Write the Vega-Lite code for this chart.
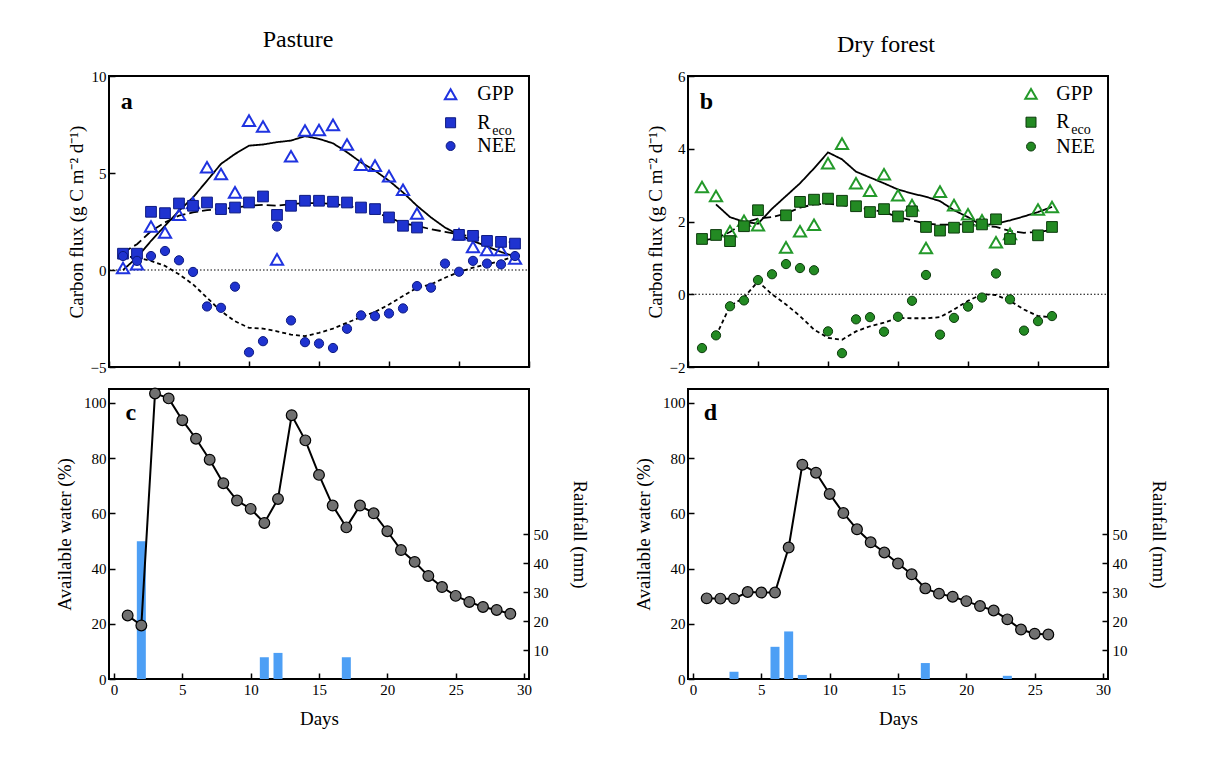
{
  "$schema": "https://vega.github.io/schema/vega-lite/v6.json",
  "background": "white",
  "padding": {"left": 54, "top": 27, "right": 5, "bottom": 5},
  "columns": 2,
  "spacing": {"row": 22, "column": 159},
  "bounds": "flush",
  "config": {
    "font": "Liberation Serif",
    "view": {"stroke": "black", "strokeWidth": 2},
    "axis": {"grid": false, "domain": false, "tickColor": "black", "tickSize": -6, "tickWidth": 1.5, "labelFont": "Liberation Serif", "labelFontSize": 15, "labelColor": "black", "labelFlush": false, "labelPadding": 9, "titleFont": "Liberation Serif", "titleFontSize": 19, "titleFontWeight": "normal", "titleColor": "black"},
    "title": {"font": "Liberation Serif", "fontSize": 24, "fontWeight": "normal", "color": "black", "anchor": "middle"}
  },
  "datasets": {
    "flux_pasture": [
      {"day":1,"series":"GPP","value":0.1},{"day":2,"series":"GPP","value":0.3},{"day":3,"series":"GPP","value":2.24},{"day":4,"series":"GPP","value":1.93},{"day":5,"series":"GPP","value":2.85},{"day":6,"series":"GPP","value":3.45},{"day":7,"series":"GPP","value":5.3},{"day":8,"series":"GPP","value":4.95},{"day":9,"series":"GPP","value":4.0},{"day":10,"series":"GPP","value":7.7},{"day":11,"series":"GPP","value":7.4},{"day":12,"series":"GPP","value":0.55},{"day":13,"series":"GPP","value":5.86},{"day":14,"series":"GPP","value":7.19},{"day":15,"series":"GPP","value":7.22},{"day":16,"series":"GPP","value":7.48},{"day":17,"series":"GPP","value":6.47},{"day":18,"series":"GPP","value":5.43},{"day":19,"series":"GPP","value":5.38},{"day":20,"series":"GPP","value":4.84},{"day":21,"series":"GPP","value":4.14},{"day":22,"series":"GPP","value":2.91},{"day":25,"series":"GPP","value":1.84},{"day":26,"series":"GPP","value":1.19},{"day":27,"series":"GPP","value":1.03},{"day":28,"series":"GPP","value":1.03},{"day":29,"series":"GPP","value":0.59},
      {"day":1,"series":"Reco","value":0.84},{"day":2,"series":"Reco","value":0.84},{"day":3,"series":"Reco","value":3.0},{"day":4,"series":"Reco","value":2.93},{"day":5,"series":"Reco","value":3.43},{"day":6,"series":"Reco","value":3.31},{"day":7,"series":"Reco","value":3.48},{"day":8,"series":"Reco","value":3.14},{"day":9,"series":"Reco","value":3.22},{"day":10,"series":"Reco","value":3.48},{"day":11,"series":"Reco","value":3.79},{"day":12,"series":"Reco","value":2.84},{"day":13,"series":"Reco","value":3.31},{"day":14,"series":"Reco","value":3.57},{"day":15,"series":"Reco","value":3.57},{"day":16,"series":"Reco","value":3.52},{"day":17,"series":"Reco","value":3.48},{"day":18,"series":"Reco","value":3.22},{"day":19,"series":"Reco","value":3.14},{"day":20,"series":"Reco","value":2.71},{"day":21,"series":"Reco","value":2.28},{"day":22,"series":"Reco","value":2.19},{"day":25,"series":"Reco","value":1.81},{"day":26,"series":"Reco","value":1.76},{"day":27,"series":"Reco","value":1.5},{"day":28,"series":"Reco","value":1.45},{"day":29,"series":"Reco","value":1.36},
      {"day":1,"series":"NEE","value":0.72},{"day":2,"series":"NEE","value":0.47},{"day":3,"series":"NEE","value":0.72},{"day":4,"series":"NEE","value":0.98},{"day":5,"series":"NEE","value":0.5},{"day":6,"series":"NEE","value":-0.1},{"day":7,"series":"NEE","value":-1.88},{"day":8,"series":"NEE","value":-1.95},{"day":9,"series":"NEE","value":-0.86},{"day":10,"series":"NEE","value":-4.24},{"day":11,"series":"NEE","value":-3.67},{"day":12,"series":"NEE","value":2.24},{"day":13,"series":"NEE","value":-2.6},{"day":14,"series":"NEE","value":-3.72},{"day":15,"series":"NEE","value":-3.79},{"day":16,"series":"NEE","value":-4.02},{"day":17,"series":"NEE","value":-3.03},{"day":18,"series":"NEE","value":-2.34},{"day":19,"series":"NEE","value":-2.38},{"day":20,"series":"NEE","value":-2.24},{"day":21,"series":"NEE","value":-1.98},{"day":22,"series":"NEE","value":-0.83},{"day":23,"series":"NEE","value":-0.91},{"day":24,"series":"NEE","value":0.33},{"day":25,"series":"NEE","value":-0.09},{"day":26,"series":"NEE","value":0.47},{"day":27,"series":"NEE","value":0.33},{"day":28,"series":"NEE","value":0.29},{"day":29,"series":"NEE","value":0.72}
    ],
    "fit_pasture": [
      {"day":1,"series":"GPP","value":0},{"day":2,"series":"GPP","value":0.64},{"day":3,"series":"GPP","value":1.5},{"day":4,"series":"GPP","value":2.28},{"day":5,"series":"GPP","value":3.05},{"day":6,"series":"GPP","value":3.74},{"day":7,"series":"GPP","value":4.6},{"day":8,"series":"GPP","value":5.47},{"day":9,"series":"GPP","value":5.98},{"day":10,"series":"GPP","value":6.41},{"day":11,"series":"GPP","value":6.47},{"day":12,"series":"GPP","value":6.59},{"day":13,"series":"GPP","value":6.67},{"day":14,"series":"GPP","value":6.9},{"day":15,"series":"GPP","value":6.76},{"day":16,"series":"GPP","value":6.53},{"day":17,"series":"GPP","value":6.07},{"day":18,"series":"GPP","value":5.55},{"day":19,"series":"GPP","value":5.12},{"day":20,"series":"GPP","value":4.6},{"day":21,"series":"GPP","value":4.0},{"day":22,"series":"GPP","value":3.31},{"day":23,"series":"GPP","value":2.71},{"day":24,"series":"GPP","value":2.19},{"day":25,"series":"GPP","value":1.81},{"day":26,"series":"GPP","value":1.5},{"day":27,"series":"GPP","value":1.21},{"day":28,"series":"GPP","value":0.93},{"day":29,"series":"GPP","value":0.69},
      {"day":1,"series":"Reco","value":0.9},{"day":2,"series":"Reco","value":1.33},{"day":3,"series":"Reco","value":2.0},{"day":4,"series":"Reco","value":2.45},{"day":5,"series":"Reco","value":2.8},{"day":6,"series":"Reco","value":2.97},{"day":7,"series":"Reco","value":3.09},{"day":8,"series":"Reco","value":3.14},{"day":9,"series":"Reco","value":3.22},{"day":10,"series":"Reco","value":3.31},{"day":11,"series":"Reco","value":3.36},{"day":12,"series":"Reco","value":3.31},{"day":13,"series":"Reco","value":3.4},{"day":14,"series":"Reco","value":3.45},{"day":15,"series":"Reco","value":3.45},{"day":16,"series":"Reco","value":3.4},{"day":17,"series":"Reco","value":3.31},{"day":18,"series":"Reco","value":3.17},{"day":19,"series":"Reco","value":2.97},{"day":20,"series":"Reco","value":2.71},{"day":21,"series":"Reco","value":2.4},{"day":22,"series":"Reco","value":2.28},{"day":23,"series":"Reco","value":2.1},{"day":24,"series":"Reco","value":1.97},{"day":25,"series":"Reco","value":1.84},{"day":26,"series":"Reco","value":1.72},{"day":27,"series":"Reco","value":1.59},{"day":28,"series":"Reco","value":1.5},{"day":29,"series":"Reco","value":1.41},
      {"day":1,"series":"NEE","value":0.72},{"day":2,"series":"NEE","value":0.64},{"day":3,"series":"NEE","value":0.47},{"day":4,"series":"NEE","value":0.21},{"day":5,"series":"NEE","value":-0.22},{"day":6,"series":"NEE","value":-0.74},{"day":7,"series":"NEE","value":-1.43},{"day":8,"series":"NEE","value":-2.12},{"day":9,"series":"NEE","value":-2.64},{"day":10,"series":"NEE","value":-2.98},{"day":11,"series":"NEE","value":-3.02},{"day":12,"series":"NEE","value":-3.16},{"day":13,"series":"NEE","value":-3.33},{"day":14,"series":"NEE","value":-3.41},{"day":15,"series":"NEE","value":-3.24},{"day":16,"series":"NEE","value":-3.02},{"day":17,"series":"NEE","value":-2.72},{"day":18,"series":"NEE","value":-2.43},{"day":19,"series":"NEE","value":-2.16},{"day":20,"series":"NEE","value":-1.78},{"day":21,"series":"NEE","value":-1.34},{"day":22,"series":"NEE","value":-0.91},{"day":23,"series":"NEE","value":-0.74},{"day":24,"series":"NEE","value":-0.4},{"day":25,"series":"NEE","value":-0.1},{"day":26,"series":"NEE","value":0.12},{"day":27,"series":"NEE","value":0.29},{"day":28,"series":"NEE","value":0.47},{"day":29,"series":"NEE","value":0.72}
    ],
    "flux_forest": [
      {"day":1,"series":"GPP","value":2.95},{"day":2,"series":"GPP","value":2.7},{"day":3,"series":"GPP","value":1.73},{"day":4,"series":"GPP","value":2.02},{"day":5,"series":"GPP","value":1.9},{"day":7,"series":"GPP","value":1.29},{"day":8,"series":"GPP","value":1.73},{"day":9,"series":"GPP","value":1.91},{"day":10,"series":"GPP","value":3.6},{"day":11,"series":"GPP","value":4.14},{"day":12,"series":"GPP","value":3.05},{"day":13,"series":"GPP","value":2.85},{"day":14,"series":"GPP","value":3.3},{"day":15,"series":"GPP","value":2.72},{"day":16,"series":"GPP","value":2.45},{"day":17,"series":"GPP","value":1.27},{"day":18,"series":"GPP","value":2.82},{"day":19,"series":"GPP","value":2.45},{"day":20,"series":"GPP","value":2.2},{"day":21,"series":"GPP","value":2.03},{"day":22,"series":"GPP","value":1.43},{"day":23,"series":"GPP","value":1.66},{"day":25,"series":"GPP","value":2.33},{"day":26,"series":"GPP","value":2.4},
      {"day":1,"series":"Reco","value":1.52},{"day":2,"series":"Reco","value":1.63},{"day":3,"series":"Reco","value":1.46},{"day":4,"series":"Reco","value":1.87},{"day":5,"series":"Reco","value":2.31},{"day":7,"series":"Reco","value":2.17},{"day":8,"series":"Reco","value":2.54},{"day":9,"series":"Reco","value":2.6},{"day":10,"series":"Reco","value":2.63},{"day":11,"series":"Reco","value":2.57},{"day":12,"series":"Reco","value":2.42},{"day":13,"series":"Reco","value":2.26},{"day":14,"series":"Reco","value":2.34},{"day":15,"series":"Reco","value":2.14},{"day":16,"series":"Reco","value":2.28},{"day":17,"series":"Reco","value":1.85},{"day":18,"series":"Reco","value":1.75},{"day":19,"series":"Reco","value":1.83},{"day":20,"series":"Reco","value":1.85},{"day":21,"series":"Reco","value":1.92},{"day":22,"series":"Reco","value":2.06},{"day":23,"series":"Reco","value":1.52},{"day":25,"series":"Reco","value":1.62},{"day":26,"series":"Reco","value":1.85},
      {"day":1,"series":"NEE","value":-1.48},{"day":2,"series":"NEE","value":-1.13},{"day":3,"series":"NEE","value":-0.33},{"day":4,"series":"NEE","value":-0.17},{"day":5,"series":"NEE","value":0.39},{"day":6,"series":"NEE","value":0.55},{"day":7,"series":"NEE","value":0.83},{"day":8,"series":"NEE","value":0.72},{"day":9,"series":"NEE","value":0.66},{"day":10,"series":"NEE","value":-1.02},{"day":11,"series":"NEE","value":-1.62},{"day":12,"series":"NEE","value":-0.69},{"day":13,"series":"NEE","value":-0.63},{"day":14,"series":"NEE","value":-1.03},{"day":15,"series":"NEE","value":-0.62},{"day":16,"series":"NEE","value":-0.18},{"day":17,"series":"NEE","value":0.53},{"day":18,"series":"NEE","value":-1.11},{"day":19,"series":"NEE","value":-0.65},{"day":20,"series":"NEE","value":-0.34},{"day":21,"series":"NEE","value":-0.09},{"day":22,"series":"NEE","value":0.57},{"day":23,"series":"NEE","value":-0.14},{"day":24,"series":"NEE","value":-1.0},{"day":25,"series":"NEE","value":-0.74},{"day":26,"series":"NEE","value":-0.6}
    ],
    "fit_forest": [
      {"day":2,"series":"GPP","value":2.47},{"day":3,"series":"GPP","value":2.12},{"day":4,"series":"GPP","value":1.99},{"day":5,"series":"GPP","value":1.94},{"day":6,"series":"GPP","value":2.35},{"day":7,"series":"GPP","value":2.7},{"day":8,"series":"GPP","value":3.05},{"day":9,"series":"GPP","value":3.46},{"day":10,"series":"GPP","value":3.9},{"day":11,"series":"GPP","value":3.71},{"day":12,"series":"GPP","value":3.37},{"day":13,"series":"GPP","value":3.21},{"day":14,"series":"GPP","value":3.05},{"day":15,"series":"GPP","value":2.88},{"day":16,"series":"GPP","value":2.77},{"day":17,"series":"GPP","value":2.68},{"day":18,"series":"GPP","value":2.56},{"day":19,"series":"GPP","value":2.31},{"day":20,"series":"GPP","value":2.12},{"day":21,"series":"GPP","value":1.89},{"day":22,"series":"GPP","value":1.94},{"day":23,"series":"GPP","value":2.03},{"day":24,"series":"GPP","value":2.14},{"day":25,"series":"GPP","value":2.26},{"day":26,"series":"GPP","value":2.4},
      {"day":1,"series":"Reco","value":1.48},{"day":2,"series":"Reco","value":1.54},{"day":3,"series":"Reco","value":1.71},{"day":4,"series":"Reco","value":1.96},{"day":5,"series":"Reco","value":2.08},{"day":6,"series":"Reco","value":2.12},{"day":7,"series":"Reco","value":2.22},{"day":8,"series":"Reco","value":2.38},{"day":9,"series":"Reco","value":2.47},{"day":10,"series":"Reco","value":2.49},{"day":11,"series":"Reco","value":2.45},{"day":12,"series":"Reco","value":2.4},{"day":13,"series":"Reco","value":2.33},{"day":14,"series":"Reco","value":2.26},{"day":15,"series":"Reco","value":2.12},{"day":16,"series":"Reco","value":2.03},{"day":17,"series":"Reco","value":1.94},{"day":18,"series":"Reco","value":1.91},{"day":19,"series":"Reco","value":1.92},{"day":20,"series":"Reco","value":1.92},{"day":21,"series":"Reco","value":1.89},{"day":22,"series":"Reco","value":1.85},{"day":23,"series":"Reco","value":1.74},{"day":24,"series":"Reco","value":1.69},{"day":25,"series":"Reco","value":1.71},{"day":26,"series":"Reco","value":1.77},
      {"day":2,"series":"NEE","value":-1.15},{"day":3,"series":"NEE","value":-0.32},{"day":4,"series":"NEE","value":-0.09},{"day":5,"series":"NEE","value":0.35},{"day":6,"series":"NEE","value":0.0},{"day":7,"series":"NEE","value":-0.28},{"day":8,"series":"NEE","value":-0.6},{"day":9,"series":"NEE","value":-0.97},{"day":10,"series":"NEE","value":-1.2},{"day":11,"series":"NEE","value":-1.25},{"day":12,"series":"NEE","value":-1.02},{"day":13,"series":"NEE","value":-0.88},{"day":14,"series":"NEE","value":-0.78},{"day":15,"series":"NEE","value":-0.65},{"day":16,"series":"NEE","value":-0.66},{"day":17,"series":"NEE","value":-0.66},{"day":18,"series":"NEE","value":-0.63},{"day":19,"series":"NEE","value":-0.42},{"day":20,"series":"NEE","value":-0.18},{"day":21,"series":"NEE","value":0.0},{"day":22,"series":"NEE","value":-0.02},{"day":23,"series":"NEE","value":-0.18},{"day":24,"series":"NEE","value":-0.42},{"day":25,"series":"NEE","value":-0.6},{"day":26,"series":"NEE","value":-0.63}
    ],
    "water_pasture": [
      {"day":1,"water":23.0},{"day":2,"water":19.4},{"day":3,"water":103.4},{"day":4,"water":101.6},{"day":5,"water":93.7},{"day":6,"water":87.0},{"day":7,"water":79.4},{"day":8,"water":70.9},{"day":9,"water":64.6},{"day":10,"water":61.6},{"day":11,"water":56.5},{"day":12,"water":65.2},{"day":13,"water":95.5},{"day":14,"water":86.4},{"day":15,"water":73.9},{"day":16,"water":62.8},{"day":17,"water":54.9},{"day":18,"water":62.8},{"day":19,"water":60.0},{"day":20,"water":53.5},{"day":21,"water":46.7},{"day":22,"water":42.4},{"day":23,"water":37.3},{"day":24,"water":33.3},{"day":25,"water":30.1},{"day":26,"water":27.9},{"day":27,"water":26.1},{"day":28,"water":25.0},{"day":29,"water":23.6}
    ],
    "rain_pasture": [
      {"day":2,"rain":47.5},{"day":11,"rain":7.5},{"day":12,"rain":9.0},{"day":17,"rain":7.5}
    ],
    "water_forest": [
      {"day":1,"water":29.2},{"day":2,"water":29.1},{"day":3,"water":29.1},{"day":4,"water":31.5},{"day":5,"water":31.3},{"day":6,"water":31.3},{"day":7,"water":47.6},{"day":8,"water":77.6},{"day":9,"water":74.7},{"day":10,"water":67.0},{"day":11,"water":60.1},{"day":12,"water":54.2},{"day":13,"water":49.5},{"day":14,"water":45.8},{"day":15,"water":41.8},{"day":16,"water":37.9},{"day":17,"water":32.8},{"day":18,"water":30.9},{"day":19,"water":29.8},{"day":20,"water":28.2},{"day":21,"water":26.4},{"day":22,"water":24.8},{"day":23,"water":21.6},{"day":24,"water":17.9},{"day":25,"water":16.4},{"day":26,"water":16.1}
    ],
    "rain_forest": [
      {"day":3,"rain":2.5},{"day":6,"rain":11.1},{"day":7,"rain":16.4},{"day":8,"rain":1.4},{"day":17,"rain":5.5},{"day":23,"rain":1.1}
    ]
  },
  "concat": [
    {
      "width": 420, "height": 291,
      "title": {"text": "Pasture", "dx": -21, "offset": 17},
      "layer": [
        {
          "data": {"name": "fit_pasture"},
          "mark": {"type": "line", "color": "black", "strokeWidth": 1.8},
          "encoding": {
            "x": {"field": "day", "type": "quantitative", "scale": {"domain": [0, 30], "nice": false}, "title": null, "axis": {"values": [0, 5, 10, 15, 20, 25, 30], "labels": false, "title": null}},
            "y": {"field": "value", "type": "quantitative", "scale": {"domain": [-5, 10], "nice": false, "zero": false}, "title": "Carbon flux (g C m⁻² d⁻¹)", "axis": {"values": [-5, 0, 5, 10], "title": "Carbon flux (g C m⁻² d⁻¹)"}},
            "strokeDash": {"field": "series", "type": "nominal", "scale": {"domain": ["GPP", "Reco", "NEE"], "range": [[1, 0], [9, 4], [4, 3]]}, "legend": null}
          }
        },
        {
          "data": {"values": [{}]},
          "mark": {"type": "rule", "color": "black", "strokeWidth": 1, "strokeDash": [1.5, 2]},
          "encoding": {"x": {"datum": 0}, "x2": {"datum": 30}, "y": {"datum": 0}}
        },
        {
          "data": {"name": "flux_pasture"},
          "transform": [{"filter": "datum.series === 'GPP'"}],
          "mark": {"type": "point", "shape": "triangle-up", "filled": false, "stroke": "#1f33e0", "strokeWidth": 2, "size": 150, "opacity": 1},
          "encoding": {"x": {"field": "day", "type": "quantitative", "title": null}, "y": {"field": "value", "type": "quantitative", "title": "Carbon flux (g C m⁻² d⁻¹)"}}
        },
        {
          "data": {"name": "flux_pasture"},
          "transform": [{"filter": "datum.series === 'Reco'"}],
          "mark": {"type": "point", "shape": "square", "filled": true, "fill": "#1f33d0", "stroke": "#0d1a80", "strokeWidth": 1, "size": 115, "opacity": 1},
          "encoding": {"x": {"field": "day", "type": "quantitative", "title": null}, "y": {"field": "value", "type": "quantitative", "title": "Carbon flux (g C m⁻² d⁻¹)"}}
        },
        {
          "data": {"name": "flux_pasture"},
          "transform": [{"filter": "datum.series === 'NEE'"}],
          "mark": {"type": "point", "shape": "circle", "filled": true, "fill": "#1f33d0", "stroke": "#0d1a80", "strokeWidth": 1, "size": 85, "opacity": 1},
          "encoding": {"x": {"field": "day", "type": "quantitative", "title": null}, "y": {"field": "value", "type": "quantitative", "title": "Carbon flux (g C m⁻² d⁻¹)"}}
        },
        {
          "data": {"values": [{}]},
          "mark": {"type": "text", "text": "a", "font": "Liberation Serif", "fontSize": 24, "fontWeight": "bold", "align": "left", "baseline": "alphabetic", "color": "black"},
          "encoding": {"x": {"datum": 0.84}, "y": {"datum": 8.3}}
        },
        {
          "data": {"values": [{}]},
          "mark": {"type": "point", "shape": "triangle-up", "filled": false, "stroke": "#1f33e0", "strokeWidth": 2, "size": 130, "opacity": 1},
          "encoding": {"x": {"datum": 24.4}, "y": {"datum": 9.06}}
        },
        {
          "data": {"values": [{}]},
          "mark": {"type": "point", "shape": "square", "filled": true, "fill": "#1f33d0", "stroke": "#0d1a80", "strokeWidth": 1, "size": 100, "opacity": 1},
          "encoding": {"x": {"datum": 24.4}, "y": {"datum": 7.59}}
        },
        {
          "data": {"values": [{}]},
          "mark": {"type": "point", "shape": "circle", "filled": true, "fill": "#1f33d0", "stroke": "#0d1a80", "strokeWidth": 1, "size": 80, "opacity": 1},
          "encoding": {"x": {"datum": 24.4}, "y": {"datum": 6.39}}
        },
        {
          "data": {"values": [{}]},
          "mark": {"type": "text", "text": "GPP", "font": "Liberation Serif", "fontSize": 20, "align": "left", "baseline": "middle", "color": "black"},
          "encoding": {"x": {"datum": 26.3}, "y": {"datum": 9.06}}
        },
        {
          "data": {"values": [{}]},
          "mark": {"type": "text", "text": "R", "font": "Liberation Serif", "fontSize": 20, "align": "left", "baseline": "middle", "color": "black"},
          "encoding": {"x": {"datum": 26.3}, "y": {"datum": 7.59}}
        },
        {
          "data": {"values": [{}]},
          "mark": {"type": "text", "text": "eco", "font": "Liberation Serif", "fontSize": 14, "align": "left", "baseline": "middle", "dx": 15, "dy": 8, "color": "black"},
          "encoding": {"x": {"datum": 26.3}, "y": {"datum": 7.59}}
        },
        {
          "data": {"values": [{}]},
          "mark": {"type": "text", "text": "NEE", "font": "Liberation Serif", "fontSize": 20, "align": "left", "baseline": "middle", "color": "black"},
          "encoding": {"x": {"datum": 26.3}, "y": {"datum": 6.39}}
        }
      ]
    },
    {
      "width": 420, "height": 291,
      "title": {"text": "Dry forest", "dx": -12, "offset": 12},
      "layer": [
        {
          "data": {"name": "fit_forest"},
          "mark": {"type": "line", "color": "black", "strokeWidth": 1.8},
          "encoding": {
            "x": {"field": "day", "type": "quantitative", "scale": {"domain": [0, 30], "nice": false}, "title": null, "axis": {"values": [0, 5, 10, 15, 20, 25, 30], "labels": false, "title": null}},
            "y": {"field": "value", "type": "quantitative", "scale": {"domain": [-2, 6], "nice": false, "zero": false}, "title": "Carbon flux (g C m⁻² d⁻¹)", "axis": {"values": [-2, 0, 2, 4, 6], "title": "Carbon flux (g C m⁻² d⁻¹)"}},
            "strokeDash": {"field": "series", "type": "nominal", "scale": {"domain": ["GPP", "Reco", "NEE"], "range": [[1, 0], [9, 4], [4, 3]]}, "legend": null}
          }
        },
        {
          "data": {"values": [{}]},
          "mark": {"type": "rule", "color": "black", "strokeWidth": 1, "strokeDash": [1.5, 2]},
          "encoding": {"x": {"datum": 0}, "x2": {"datum": 30}, "y": {"datum": 0}}
        },
        {
          "data": {"name": "flux_forest"},
          "transform": [{"filter": "datum.series === 'GPP'"}],
          "mark": {"type": "point", "shape": "triangle-up", "filled": false, "stroke": "#23992a", "strokeWidth": 2, "size": 150, "opacity": 1},
          "encoding": {"x": {"field": "day", "type": "quantitative", "title": null}, "y": {"field": "value", "type": "quantitative", "title": "Carbon flux (g C m⁻² d⁻¹)"}}
        },
        {
          "data": {"name": "flux_forest"},
          "transform": [{"filter": "datum.series === 'Reco'"}],
          "mark": {"type": "point", "shape": "square", "filled": true, "fill": "#238a23", "stroke": "#0c3a0c", "strokeWidth": 1, "size": 115, "opacity": 1},
          "encoding": {"x": {"field": "day", "type": "quantitative", "title": null}, "y": {"field": "value", "type": "quantitative", "title": "Carbon flux (g C m⁻² d⁻¹)"}}
        },
        {
          "data": {"name": "flux_forest"},
          "transform": [{"filter": "datum.series === 'NEE'"}],
          "mark": {"type": "point", "shape": "circle", "filled": true, "fill": "#238a23", "stroke": "#0c3a0c", "strokeWidth": 1, "size": 85, "opacity": 1},
          "encoding": {"x": {"field": "day", "type": "quantitative", "title": null}, "y": {"field": "value", "type": "quantitative", "title": "Carbon flux (g C m⁻² d⁻¹)"}}
        },
        {
          "data": {"values": [{}]},
          "mark": {"type": "text", "text": "b", "font": "Liberation Serif", "fontSize": 24, "fontWeight": "bold", "align": "left", "baseline": "alphabetic", "color": "black"},
          "encoding": {"x": {"datum": 0.84}, "y": {"datum": 5.08}}
        },
        {
          "data": {"values": [{}]},
          "mark": {"type": "point", "shape": "triangle-up", "filled": false, "stroke": "#23992a", "strokeWidth": 2, "size": 130, "opacity": 1},
          "encoding": {"x": {"datum": 24.5}, "y": {"datum": 5.51}}
        },
        {
          "data": {"values": [{}]},
          "mark": {"type": "point", "shape": "square", "filled": true, "fill": "#238a23", "stroke": "#0c3a0c", "strokeWidth": 1, "size": 100, "opacity": 1},
          "encoding": {"x": {"datum": 24.5}, "y": {"datum": 4.73}}
        },
        {
          "data": {"values": [{}]},
          "mark": {"type": "point", "shape": "circle", "filled": true, "fill": "#238a23", "stroke": "#0c3a0c", "strokeWidth": 1, "size": 80, "opacity": 1},
          "encoding": {"x": {"datum": 24.5}, "y": {"datum": 4.06}}
        },
        {
          "data": {"values": [{}]},
          "mark": {"type": "text", "text": "GPP", "font": "Liberation Serif", "fontSize": 20, "align": "left", "baseline": "middle", "color": "black"},
          "encoding": {"x": {"datum": 26.3}, "y": {"datum": 5.51}}
        },
        {
          "data": {"values": [{}]},
          "mark": {"type": "text", "text": "R", "font": "Liberation Serif", "fontSize": 20, "align": "left", "baseline": "middle", "color": "black"},
          "encoding": {"x": {"datum": 26.3}, "y": {"datum": 4.73}}
        },
        {
          "data": {"values": [{}]},
          "mark": {"type": "text", "text": "eco", "font": "Liberation Serif", "fontSize": 14, "align": "left", "baseline": "middle", "dx": 15, "dy": 8, "color": "black"},
          "encoding": {"x": {"datum": 26.3}, "y": {"datum": 4.73}}
        },
        {
          "data": {"values": [{}]},
          "mark": {"type": "text", "text": "NEE", "font": "Liberation Serif", "fontSize": 20, "align": "left", "baseline": "middle", "color": "black"},
          "encoding": {"x": {"datum": 26.3}, "y": {"datum": 4.06}}
        }
      ]
    },
    {
      "width": 420, "height": 290,
      "resolve": {"scale": {"y": "independent"}, "axis": {"y": "independent"}},
      "layer": [
        {
          "data": {"name": "rain_pasture"},
          "mark": {"type": "bar", "size": 9, "color": "#4d9ff5"},
          "encoding": {
            "x": {"field": "day", "type": "quantitative", "scale": {"domain": [0, 30], "nice": false}, "title": "Days", "axis": {"values": [0, 5, 10, 15, 20, 25, 30], "title": "Days", "titlePadding": 12}},
            "y": {"field": "rain", "type": "quantitative", "scale": {"domain": [0, 100], "nice": false}, "title": "Rainfall (mm)", "axis": {"orient": "right", "values": [10, 20, 30, 40, 50], "title": "Rainfall (mm)", "labelPadding": 10, "titlePadding": 21}}
          }
        },
        {
          "layer": [
            {
              "data": {"name": "water_pasture"},
              "mark": {"type": "line", "color": "black", "strokeWidth": 2, "point": {"filled": true, "fill": "#707070", "stroke": "black", "strokeWidth": 1.2, "size": 115, "opacity": 1}},
              "encoding": {
                "x": {"field": "day", "type": "quantitative", "title": "Days"},
                "y": {"field": "water", "type": "quantitative", "scale": {"domain": [0, 105], "nice": false}, "title": "Available water (%)", "axis": {"orient": "left", "values": [0, 20, 40, 60, 80, 100], "title": "Available water (%)", "titlePadding": 9}}
              }
            },
            {
              "data": {"values": [{}]},
              "mark": {"type": "text", "text": "c", "font": "Liberation Serif", "fontSize": 24, "fontWeight": "bold", "align": "left", "baseline": "alphabetic", "color": "black"},
              "encoding": {"x": {"datum": 0.84}, "y": {"datum": 93.8}}
            }
          ]
        }
      ]
    },
    {
      "width": 420, "height": 290,
      "resolve": {"scale": {"y": "independent"}, "axis": {"y": "independent"}},
      "layer": [
        {
          "data": {"name": "rain_forest"},
          "mark": {"type": "bar", "size": 9, "color": "#4d9ff5"},
          "encoding": {
            "x": {"field": "day", "type": "quantitative", "scale": {"domain": [0, 30], "nice": false}, "title": "Days", "axis": {"values": [0, 5, 10, 15, 20, 25, 30], "title": "Days", "titlePadding": 12}},
            "y": {"field": "rain", "type": "quantitative", "scale": {"domain": [0, 100], "nice": false}, "title": "Rainfall (mm)", "axis": {"orient": "right", "values": [10, 20, 30, 40, 50], "title": "Rainfall (mm)", "labelPadding": 10, "titlePadding": 21}}
          }
        },
        {
          "layer": [
            {
              "data": {"name": "water_forest"},
              "mark": {"type": "line", "color": "black", "strokeWidth": 2, "point": {"filled": true, "fill": "#707070", "stroke": "black", "strokeWidth": 1.2, "size": 115, "opacity": 1}},
              "encoding": {
                "x": {"field": "day", "type": "quantitative", "title": "Days"},
                "y": {"field": "water", "type": "quantitative", "scale": {"domain": [0, 105], "nice": false}, "title": "Available water (%)", "axis": {"orient": "left", "values": [0, 20, 40, 60, 80, 100], "title": "Available water (%)", "titlePadding": 9}}
              }
            },
            {
              "data": {"values": [{}]},
              "mark": {"type": "text", "text": "d", "font": "Liberation Serif", "fontSize": 24, "fontWeight": "bold", "align": "left", "baseline": "alphabetic", "color": "black"},
              "encoding": {"x": {"datum": 0.79}, "y": {"datum": 93.8}}
            }
          ]
        }
      ]
    }
  ]
}
